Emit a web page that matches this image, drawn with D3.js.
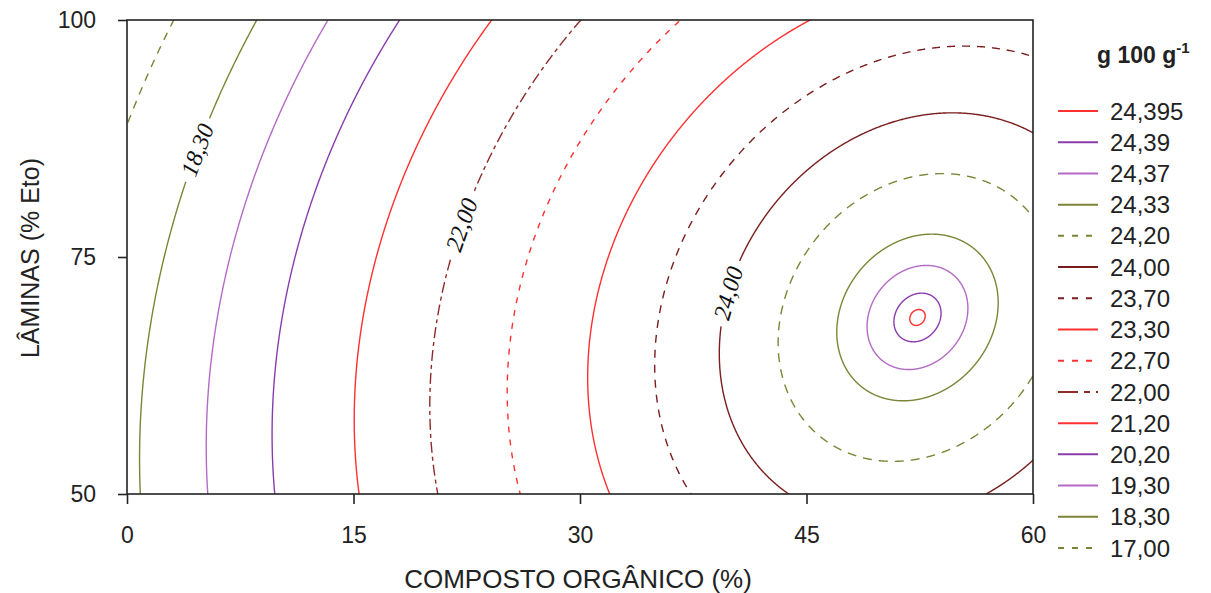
<!DOCTYPE html>
<html>
<head>
<meta charset="utf-8">
<script src="https://cdn.jsdelivr.net/npm/d3@7"></script>
<style>
  html, body { margin: 0; padding: 0; background: #fff; }
  svg { display: block; }
</style>
</head>
<body>
<svg id="chart" width="1211" height="593"></svg>
<script>
// ---- Data ----
// Fitted response surface: peak value, peak location [composto, lâmina],
// and quadratic coefficients [xx, LL, xL] of the canonical form
const surfacePeak = 24.3956;
const surfaceCenter = [52.35, 68.62];
const surfaceCoefs = [0.00237, 0.000876, -0.000507];

const levels      = [24.395, 24.39, 24.37, 24.33, 24.20, 24.00, 23.70, 23.30, 22.70, 22.00, 21.20, 20.20, 19.30, 18.30, 17.00];
const levelLabels = ["24,395", "24,39", "24,37", "24,33", "24,20", "24,00", "23,70", "23,30", "22,70", "22,00", "21,20", "20,20", "19,30", "18,30", "17,00"];
const levelColors = ["#ff3030", "#8a3cad", "#b56ac6", "#7c8536", "#7c8536", "#7a1d1d", "#7a1d1d", "#ff3030", "#ff3030", "#8e2a2a", "#ff3030", "#8a3cad", "#b56ac6", "#7c8536", "#7c8536"];
const levelDashes = [null, null, null, null, "9,7", null, "8,7", null, "6,7", "11,4,4,4", null, null, null, null, "8,7"];

const onLineLevels = [18.30, 22.00, 24.00];
const onLineText   = ["18,30", "22,00", "24,00"];
const onLineAt     = [86.3, 78.4, 71.2];   // lâmina where label sits

const xTicks = [0, 15, 30, 45, 60];
const yTicks = [50, 75, 100];
const xTitle = "COMPOSTO ORGÂNICO (%)";
const yTitle = "LÂMINAS (% Eto)";
const legendTitle = "g 100 g";

// ---- Layout ----
const svg = d3.select("#chart");
const x = d3.scaleLinear().domain([0, 60]).range([127, 1033]);
const y = d3.scaleLinear().domain([50, 100]).range([494, 20]);

const [x0, L0] = surfaceCenter;
const [ca, cb, cc] = surfaceCoefs;

// contour rings of the quadratic surface
function ring(level) {
  const r = surfacePeak - level;
  const pts = [];
  const N = 2400;
  for (let i = 0; i < N; i++) {
    const t = (i / N) * 2 * Math.PI;
    const c = Math.cos(t), s = Math.sin(t);
    const q = ca * c * c + cb * s * s + cc * c * s;
    const rho = Math.sqrt(r / q);
    pts.push([x0 + rho * c, L0 + rho * s]);
  }
  return pts;
}

const defs = svg.append("defs");
defs.append("clipPath").attr("id", "plotclip")
  .append("rect").attr("x", x(0)).attr("y", y(100))
  .attr("width", x(60) - x(0)).attr("height", y(50) - y(100));

// label positions on lines
const labelInfo = onLineLevels.map((lev, i) => {
  const lv = onLineAt[i];
  const v = lv - L0;
  const A = ca, B = cc * v, C = -(surfacePeak - cb * v * v - lev);
  const u = (-B - Math.sqrt(B * B - 4 * A * C)) / (2 * A);
  const xv = x0 + u;
  const fx = -2 * ca * u - cc * v;
  const fl = -2 * cb * v - cc * u;
  const sx = (x(60) - x(0)) / 60, sy = (y(50) - y(100)) / 50;
  let tx = fl * sx, ty = fx * sy;
  let ang = Math.atan2(ty, tx) * 180 / Math.PI;
  if (ang > 90) ang -= 180;
  if (ang <= -90) ang += 180;
  return { px: x(xv), py: y(lv), ang, text: onLineText[i] };
});

const mask = defs.append("mask").attr("id", "labelmask").attr("maskUnits", "userSpaceOnUse")
  .attr("x", 0).attr("y", 0).attr("width", 1211).attr("height", 593);
mask.append("rect").attr("x", 0).attr("y", 0).attr("width", 1211).attr("height", 593).attr("fill", "#fff");
labelInfo.forEach(d => {
  mask.append("rect")
    .attr("x", -34).attr("y", -11).attr("width", 68).attr("height", 22)
    .attr("fill", "#000")
    .attr("transform", `translate(${d.px},${d.py}) rotate(${d.ang})`);
});

const line = d3.line().x(d => x(d[0])).y(d => y(d[1])).curve(d3.curveLinearClosed);

const cg = svg.append("g").attr("clip-path", "url(#plotclip)")
  .append("g").attr("mask", "url(#labelmask)");
levels.forEach((lev, i) => {
  cg.append("path")
    .attr("d", line(ring(lev)))
    .attr("fill", "none")
    .attr("stroke", levelColors[i])
    .attr("stroke-width", 1.4)
    .attr("stroke-dasharray", levelDashes[i]);
});

// on-line labels
labelInfo.forEach(d => {
  svg.append("text")
    .attr("transform", `translate(${d.px},${d.py}) rotate(${d.ang})`)
    .attr("text-anchor", "middle")
    .attr("dy", "0.35em")
    .attr("font-family", "'Liberation Serif', 'Times New Roman', serif")
    .attr("font-style", "italic")
    .attr("font-size", 24)
    .attr("fill", "#111")
    .text(d.text);
});

// frame
svg.append("rect").attr("x", x(0)).attr("y", y(100))
  .attr("width", x(60) - x(0)).attr("height", y(50) - y(100))
  .attr("fill", "none").attr("stroke", "#222").attr("stroke-width", 1.6);

// axes
const fontSans = "'Liberation Sans', Arial, sans-serif";
const xAxis = svg.append("g").attr("transform", `translate(0,${y(50)})`)
  .call(d3.axisBottom(x).tickValues(xTicks).tickSize(10).tickPadding(23).tickFormat(d3.format("d")));
const yAxis = svg.append("g").attr("transform", `translate(${x(0)},0)`)
  .call(d3.axisLeft(y).tickValues(yTicks).tickSize(9).tickPadding(22).tickFormat(d3.format("d")));
[xAxis, yAxis].forEach(g => {
  g.select(".domain").remove();
  g.selectAll(".tick line").attr("stroke", "#222").attr("stroke-width", 1.6);
  g.selectAll(".tick text").attr("font-family", fontSans).attr("font-size", 23).attr("fill", "#222");
});

svg.append("text")
  .attr("x", 578).attr("y", 588)
  .attr("text-anchor", "middle")
  .attr("font-family", fontSans).attr("font-size", 26).attr("fill", "#222")
  .text(xTitle);
svg.append("text")
  .attr("transform", `translate(39,258) rotate(-90)`)
  .attr("text-anchor", "middle")
  .attr("font-family", fontSans).attr("font-size", 25).attr("fill", "#222")
  .text(yTitle);

// legend
const lg = svg.append("g");
const lt = lg.append("text").attr("x", 1097).attr("y", 63)
  .attr("font-family", fontSans).attr("font-size", 23).attr("font-weight", "bold").attr("fill", "#222");
lt.append("tspan").text(legendTitle);
lt.append("tspan").attr("dy", -10).attr("font-size", 15).text("-1");

const ly = d3.scaleLinear().domain([0, levels.length - 1]).range([111, 548]);
levels.forEach((lev, i) => {
  lg.append("line")
    .attr("x1", 1058).attr("x2", 1098)
    .attr("y1", ly(i)).attr("y2", ly(i))
    .attr("stroke", levelColors[i]).attr("stroke-width", 2)
    .attr("stroke-dasharray", levelDashes[i] ? (levelDashes[i] === "11,4,4,4" ? "20,6,6,6" : "6,8") : null);
  lg.append("text")
    .attr("x", 1110).attr("y", ly(i)).attr("dy", "0.36em")
    .attr("font-family", fontSans).attr("font-size", 24).attr("fill", "#222")
    .text(levelLabels[i]);
});
</script>
</body>
</html>
